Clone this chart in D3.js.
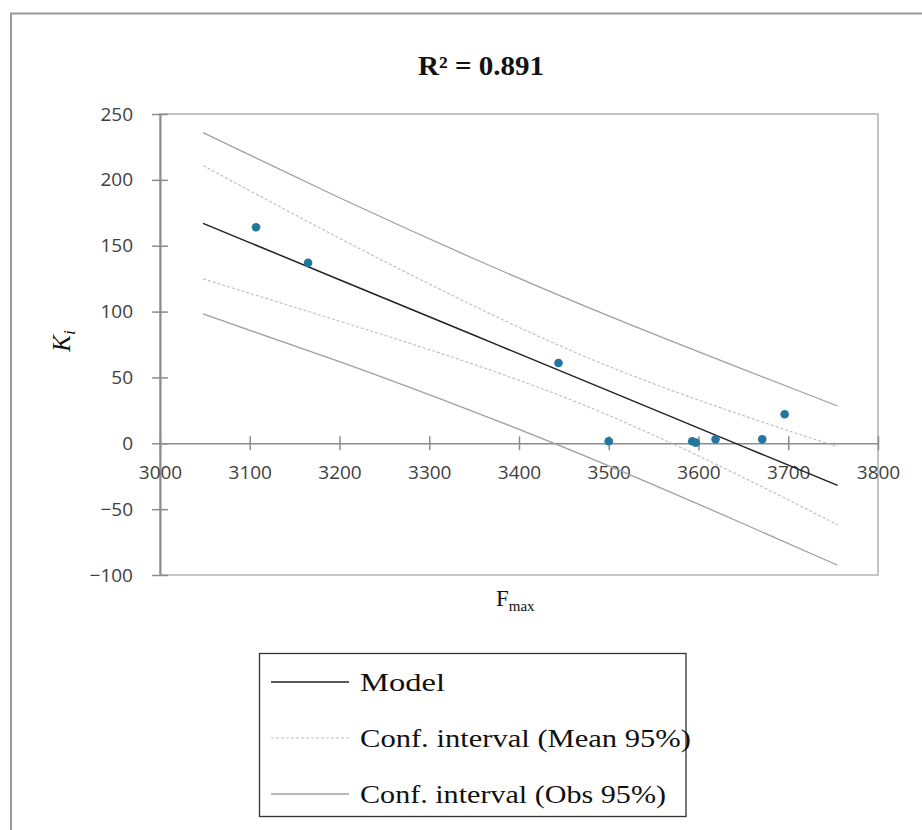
<!DOCTYPE html>
<html><head><meta charset="utf-8">
<script src="https://cdn.jsdelivr.net/npm/d3@7"></script>
<style>body{margin:0;background:#fff}svg{display:block}</style>
</head><body>
<script>
// Data
const pointsX = [3107, 3165, 3444, 3500, 3593, 3597, 3619, 3671, 3696];
const pointsY = [164, 137, 61, 1.5, 1.5, 0.5, 3, 3, 22];
const curveX     = [3048, 3200, 3350, 3500, 3650, 3755];
const modelY     = [167, 124.2, 82, 39.8, -2.5, -32];
const meanUpperY = [210.8, 155.7, 104.2, 58.4, 21, -2.6];
const meanLowerY = [124.8, 92.7, 59.8, 21.2, -26, -62];
const obsUpperY  = [235.8, 186.4, 140.1, 96.7, 56.1, 28.3];
const obsLowerY  = [98.2, 62, 23.9, -17.1, -61.1, -92.6];
const xTicks = [3000, 3100, 3200, 3300, 3400, 3500, 3600, 3700, 3800];
const yTicks = [-100, -50, 0, 50, 100, 150, 200, 250];
const legendLabels = ["Model", "Conf. interval (Mean 95%)", "Conf. interval (Obs 95%)"];
const titleText = "R² = 0.891";

const W = 922, H = 830;
const svg = d3.select("body").append("svg").attr("width", W).attr("height", H);

// outer frame (left/top only visible)
svg.append("line").attr("x1",11).attr("x2",11).attr("y1",13.5).attr("y2",H).attr("stroke","#9a9a9a").attr("stroke-width",2);
svg.append("line").attr("x1",10).attr("x2",W).attr("y1",13.5).attr("y2",13.5).attr("stroke","#9a9a9a").attr("stroke-width",2);

const x = d3.scaleLinear().domain([3000, 3800]).range([160, 878]);
const y = d3.scaleLinear().domain([-100, 250]).range([575, 114]);

// plot area border
svg.append("rect").attr("x",160).attr("y",114).attr("width",718).attr("height",461)
  .attr("fill","none").attr("stroke","#c4c4c4").attr("stroke-width",2);

// Y axis
const yAxis = d3.axisLeft(y).tickValues(yTicks).tickFormat(d3.format("d")).tickSizeInner(8).tickSizeOuter(0).tickPadding(19);
const gy = svg.append("g").attr("transform","translate(160,0)").call(yAxis);
gy.select(".domain").attr("stroke","#8c8c8c").attr("stroke-width",2);
gy.selectAll(".tick line").attr("stroke","#8c8c8c").attr("stroke-width",1.5).attr("x2",8).attr("x1",-8);
gy.selectAll(".tick text").attr("font-family","'Open Sans', sans-serif").attr("font-size",19).attr("fill","#404040");

// X axis at y=0
const xAxis = d3.axisBottom(x).tickValues(xTicks).tickFormat(d3.format("d")).tickSizeInner(0).tickSizeOuter(0).tickPadding(22);
const gx = svg.append("g").attr("transform",`translate(0,${y(0)})`).call(xAxis);
gx.select(".domain").attr("stroke","#8c8c8c").attr("stroke-width",1.5);
gx.selectAll(".tick line").attr("stroke","#8c8c8c").attr("stroke-width",1.5).attr("y1",-7).attr("y2",7);
gx.selectAll(".tick text").attr("font-family","'Open Sans', sans-serif").attr("font-size",19).attr("fill","#404040");

const line = d3.line().x(d => x(d[0])).y(d => y(d[1])).curve(d3.curveNatural);
const mk = arr => curveX.map((v,i) => [v, arr[i]]);

svg.append("path").attr("d", line(mk(obsUpperY))).attr("fill","none").attr("stroke","#a0a0a0").attr("stroke-width",1.3);
svg.append("path").attr("d", line(mk(obsLowerY))).attr("fill","none").attr("stroke","#a0a0a0").attr("stroke-width",1.3);
svg.append("path").attr("d", line(mk(meanUpperY))).attr("fill","none").attr("stroke","#bdbdbd").attr("stroke-width",1.1).attr("stroke-dasharray","3,2");
svg.append("path").attr("d", line(mk(meanLowerY))).attr("fill","none").attr("stroke","#bdbdbd").attr("stroke-width",1.1).attr("stroke-dasharray","3,2");
svg.append("path").attr("d", line(mk(modelY))).attr("fill","none").attr("stroke","#222").attr("stroke-width",1.5);

// points
svg.append("g").selectAll("circle").data(pointsX.map((v,i)=>[v,pointsY[i]])).join("circle")
  .attr("cx", d=>x(d[0])).attr("cy", d=>y(d[1])).attr("r",4.3).attr("fill","#23769d");

// title
const t = svg.append("text").attr("x",481).attr("y",75).attr("text-anchor","middle")
  .attr("font-family","'Liberation Serif', serif").attr("font-weight","bold").attr("font-size",27).attr("fill","#111")
  .attr("textLength",126).attr("lengthAdjust","spacingAndGlyphs");
t.text(titleText);

// y label
const yl = svg.append("text").attr("transform","translate(70,341) rotate(-90)").attr("text-anchor","middle")
  .attr("font-family","'Liberation Serif', serif").attr("font-style","italic").attr("font-size",25).attr("fill","#111");
yl.append("tspan").text("K");
yl.append("tspan").attr("font-size",17).attr("dy",5).text("i");

// x label
const xl = svg.append("text").attr("x",496).attr("y",606)
  .attr("font-family","'Liberation Serif', serif").attr("font-size",23).attr("fill","#111");
xl.append("tspan").text("F");
xl.append("tspan").attr("font-size",15).attr("dy",5).text("max");

// legend
svg.append("rect").attr("x",259.5).attr("y",653.5).attr("width",426.5).attr("height",163)
  .attr("fill","none").attr("stroke","#333").attr("stroke-width",1.3);
const legY = [682, 738, 794];
const legStyle = [
  {stroke:"#222", w:1.5, dash:null},
  {stroke:"#bdbdbd", w:1.1, dash:"3,2"},
  {stroke:"#a0a0a0", w:1.3, dash:null}
];
const legTextLen = [85, 331, 306];
legendLabels.forEach((lab,i) => {
  const ln = svg.append("line").attr("x1",271).attr("x2",349).attr("y1",legY[i]).attr("y2",legY[i])
    .attr("stroke",legStyle[i].stroke).attr("stroke-width",legStyle[i].w);
  if (legStyle[i].dash) ln.attr("stroke-dasharray",legStyle[i].dash);
  svg.append("text").attr("x",360).attr("y",legY[i]+9).attr("font-family","'Liberation Serif', serif")
    .attr("font-size",26).attr("fill","#111").attr("textLength",legTextLen[i]).attr("lengthAdjust","spacingAndGlyphs").text(lab);
});
</script>
</body></html>
